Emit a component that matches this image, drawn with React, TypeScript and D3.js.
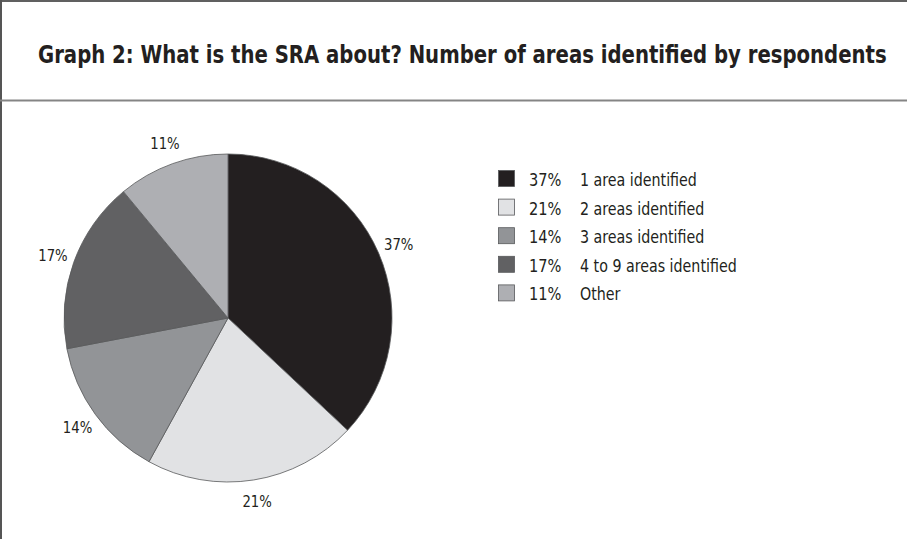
import { useEffect, useRef } from 'react'
import * as d3 from 'd3'

const TITLE = 'Graph 2: What is the SRA about? Number of areas identified by respondents'

// Slices clockwise from 12 o'clock
const CATEGORIES = ['1 area identified', '2 areas identified', '3 areas identified', '4 to 9 areas identified', 'Other']
const VALUES = [37, 21, 14, 17, 11]
const COLORS = ['#231f20', '#e1e2e4', '#929497', '#616163', '#aeafb3']

const FONT = '"DejaVu Sans Condensed", "Liberation Sans Narrow", "Open Sans", sans-serif'

export default function App() {
  const svgRef = useRef<SVGSVGElement>(null)

  useEffect(() => {
    const svg = svgRef.current
    if (!svg) return
    const width = 907
    const height = 539

    const root = d3.select(svg)
    root.selectAll('*').remove()
    root.attr('width', width).attr('height', height)

    root.append('rect').attr('width', width).attr('height', height).attr('fill', '#fff')

    // Frame: top rule, left rule, title divider
    root.append('line').attr('x1', 0).attr('x2', width).attr('y1', 1).attr('y2', 1)
      .attr('stroke', '#2b2b2b').attr('stroke-width', 1.5)
    root.append('line').attr('x1', 1).attr('x2', 1).attr('y1', 0).attr('y2', height)
      .attr('stroke', '#555').attr('stroke-width', 2)
    root.append('line').attr('x1', 0).attr('x2', width).attr('y1', 100.5).attr('y2', 100.5)
      .attr('stroke', '#858585').attr('stroke-width', 2)

    // Title, squeezed horizontally to the reference's condensed width
    const title = root.append('text')
      .attr('x', 0).attr('y', 0)
      .attr('font-family', FONT)
      .attr('font-weight', 'bold')
      .attr('font-size', '25px')
      .attr('fill', '#231f20')
      .text(TITLE)
    const natural = (title.node() as SVGTextElement).getComputedTextLength() || 849
    title.attr('transform', `translate(38,63) scale(${849 / natural},1)`)

    // Pie
    const cx = 228, cy = 318, r = 164
    const g = root.append('g').attr('transform', `translate(${cx},${cy})`)
    const pie = d3.pie<number>().sort(null).value(d => d)
    const arcs = pie(VALUES)
    const arc = d3.arc<d3.PieArcDatum<number>>().innerRadius(0).outerRadius(r)
    const labelArc = d3.arc<d3.PieArcDatum<number>>().innerRadius(186).outerRadius(186)

    g.selectAll('path.slice')
      .data(arcs)
      .join('path')
      .attr('class', 'slice')
      .attr('d', arc)
      .attr('fill', (_, i) => COLORS[i])
      .attr('stroke', '#58595b')
      .attr('stroke-width', 0.8)

    g.selectAll('text.pct')
      .data(arcs)
      .join('text')
      .attr('class', 'pct')
      .attr('transform', d => {
        const [x, y] = labelArc.centroid(d)
        return `translate(${x},${y}) scale(0.92,1)`
      })
      .attr('text-anchor', 'middle')
      .attr('dy', '0.36em')
      .attr('font-family', FONT)
      .attr('font-size', '16px')
      .attr('fill', '#231f20')
      .text(d => `${d.data}%`)

    // Legend
    const legend = root.append('g').attr('transform', 'translate(498,170)')
    const rowH = 28.6
    const rows = legend.selectAll('g.row')
      .data(CATEGORIES)
      .join('g')
      .attr('class', 'row')
      .attr('transform', (_, i) => `translate(0,${i * rowH})`)

    rows.append('rect')
      .attr('x', 0.5).attr('y', 0.5)
      .attr('width', 16).attr('height', 16)
      .attr('fill', (_, i) => COLORS[i])
      .attr('stroke', '#58595b')
      .attr('stroke-width', 0.8)

    rows.append('text')
      .attr('transform', 'translate(31,16) scale(0.9,1)')
      .attr('font-family', FONT)
      .attr('font-size', '18px')
      .attr('fill', '#231f20')
      .text((_, i) => `${VALUES[i]}%`)

    rows.append('text')
      .attr('transform', 'translate(82,16) scale(0.88,1)')
      .attr('font-family', FONT)
      .attr('font-size', '18px')
      .attr('fill', '#231f20')
      .text(d => d)
  }, [])

  return (
    <svg ref={svgRef} style={{ position: 'absolute', left: 0, top: 0, display: 'block' }} />
  )
}
